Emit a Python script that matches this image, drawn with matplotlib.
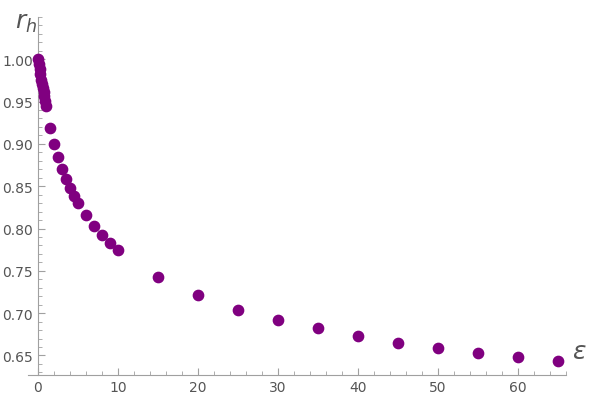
import matplotlib.pyplot as plt
from matplotlib.ticker import MultipleLocator

eps = [0, 0.1, 0.2, 0.3, 0.4, 0.5, 0.6, 0.7, 0.8, 0.9, 1.0,
       1.5, 2, 2.5, 3, 3.5, 4, 4.5, 5, 6, 7, 8, 9, 10,
       15, 20, 25, 30, 35, 40, 45, 50, 55, 60, 65]
r_h = [1.0, 0.994, 0.988, 0.982, 0.976, 0.971, 0.966, 0.961, 0.956, 0.951, 0.945,
       0.919, 0.900, 0.884, 0.870, 0.858, 0.848, 0.838, 0.830, 0.816, 0.803, 0.792, 0.783, 0.775,
       0.743, 0.722, 0.704, 0.692, 0.682, 0.673, 0.665, 0.659, 0.653, 0.648, 0.643]

fig = plt.figure(figsize=(5.99, 4.06), dpi=100)
ax = fig.add_axes([0.0467, 0.074, 0.898, 0.882])
ax.scatter(eps, r_h, s=55, color="#800080", zorder=3, clip_on=False)
ax.set_xlim(-1.25, 66)
ax.set_ylim(0.627, 1.05)
ax.spines["left"].set_position(("data", 0))
for s in ("top", "right"):
    ax.spines[s].set_visible(False)
for s in ("left", "bottom"):
    ax.spines[s].set_color("#a0a0a0")
ax.xaxis.set_major_locator(MultipleLocator(10))
ax.xaxis.set_minor_locator(MultipleLocator(2))
ax.yaxis.set_major_locator(MultipleLocator(0.05))
ax.yaxis.set_minor_locator(MultipleLocator(0.01))
ax.tick_params(which="both", colors="#a0a0a0", labelcolor="#555555", labelsize=10, direction="in")
ax.tick_params(which="major", length=5)
ax.tick_params(which="minor", length=3)
ax.set_xticks([0, 10, 20, 30, 40, 50, 60])
ax.set_yticks([0.65, 0.70, 0.75, 0.80, 0.85, 0.90, 0.95, 1.00])
ax.set_yticklabels([f"{v:.2f}" for v in ax.get_yticks()])
fig.text(0.025, 0.93, r"$r_h$", fontsize=18, color="#555555")
fig.text(0.955, 0.115, r"$\epsilon$", fontsize=18, color="#555555")
fig.savefig("out.png", dpi=100)
